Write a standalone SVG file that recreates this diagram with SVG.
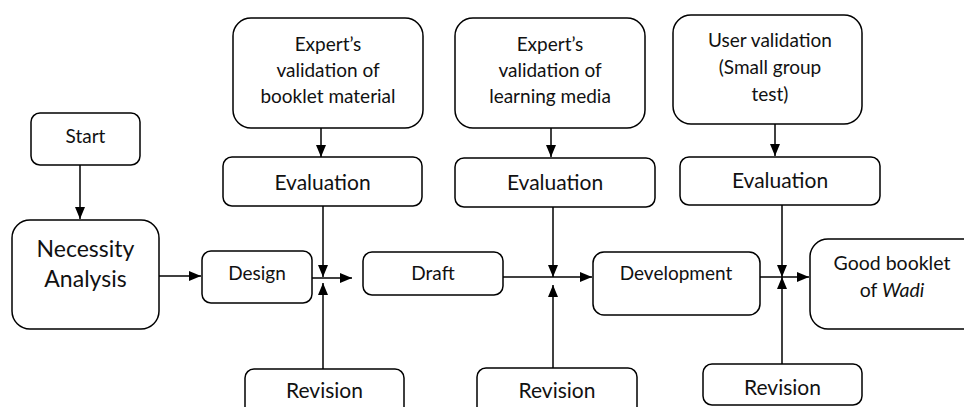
<svg xmlns="http://www.w3.org/2000/svg" width="964" height="407" viewBox="0 0 964 407">
<defs>
<marker id="ah" viewBox="0 0 12 10" refX="12" refY="5" markerWidth="12" markerHeight="10" markerUnits="userSpaceOnUse" orient="auto">
<path d="M0,0 L12,5 L0,10 z" fill="#000"/>
</marker>
<style>
.box{fill:#fff;stroke:#000;stroke-width:1.5}
.t{font-family:Lato,"Open Sans","Liberation Sans",sans-serif;fill:#111;text-anchor:middle}
.s17{font-size:19px}
.s18{font-size:19.5px}
.s21{font-size:21px}
.s22{font-size:23px}
.c{stroke:#000;stroke-width:1.5;fill:none;marker-end:url(#ah)}
</style>
</defs>
<rect width="964" height="407" fill="#fff"/>
<g id="connectors">
<line class="c" x1="80" y1="165" x2="80" y2="219"/>
<line class="c" x1="159" y1="276" x2="201" y2="276"/>
<line class="c" x1="321" y1="128" x2="321" y2="157"/>
<line class="c" x1="323" y1="206" x2="323" y2="277"/>
<line class="c" x1="323" y1="369" x2="323" y2="283"/>
<line class="c" x1="312" y1="278" x2="352" y2="278"/>
<line class="c" x1="551" y1="128" x2="551" y2="157"/>
<line class="c" x1="553" y1="207" x2="553" y2="277"/>
<line class="c" x1="553" y1="368" x2="553" y2="285"/>
<line class="c" x1="503" y1="277" x2="592" y2="277"/>
<line class="c" x1="775" y1="124" x2="775" y2="156"/>
<line class="c" x1="782" y1="205" x2="782" y2="277"/>
<line class="c" x1="782" y1="364" x2="782" y2="277"/>
<line class="c" x1="760" y1="277" x2="809" y2="277"/>
</g>
<g id="start"><rect class="box" x="31" y="113" width="109" height="52" rx="9"/><text class="t s17" x="85.5" y="143">Start</text></g>
<g id="necessity"><rect class="box" x="12" y="220" width="147" height="109" rx="18"/><text class="t s22" x="85.5" y="257">Necessity</text><text class="t s22" x="85.5" y="287">Analysis</text></g>
<g id="design"><rect class="box" x="202" y="251" width="110" height="52" rx="9"/><text class="t s17" x="257" y="280">Design</text></g>
<g id="expert1"><rect class="box" x="233" y="18" width="190" height="110" rx="18"/><text class="t s17" x="328" y="51">Expert’s</text><text class="t s17" x="328" y="77">validation of</text><text class="t s17" x="328" y="103">booklet material</text></g>
<g id="eval1"><rect class="box" x="223" y="157" width="199" height="49" rx="9"/><text class="t s21" x="322.5" y="190">Evaluation</text></g>
<g id="revision1"><rect class="box" x="245" y="369" width="159" height="50" rx="9"/><text class="t s21" x="324.5" y="398">Revision</text></g>
<g id="draft"><rect class="box" x="363" y="252" width="140" height="43" rx="9"/><text class="t s17" x="433" y="280">Draft</text></g>
<g id="expert2"><rect class="box" x="455" y="18" width="190" height="110" rx="18"/><text class="t s17" x="550" y="51">Expert’s</text><text class="t s17" x="550" y="77">validation of</text><text class="t s17" x="550" y="103">learning media</text></g>
<g id="eval2"><rect class="box" x="455" y="158" width="200" height="49" rx="9"/><text class="t s21" x="555" y="190">Evaluation</text></g>
<g id="revision2"><rect class="box" x="477" y="368" width="160" height="50" rx="9"/><text class="t s21" x="557" y="398">Revision</text></g>
<g id="development"><rect class="box" x="593" y="252" width="167" height="63" rx="11"/><text class="t s17" x="676" y="280">Development</text></g>
<g id="expert3"><rect class="box" x="673" y="15" width="189" height="109" rx="18"/><text class="t s17" x="770" y="47">User validation</text><text class="t s17" x="770" y="74">(Small group</text><text class="t s17" x="770" y="101">test)</text></g>
<g id="eval3"><rect class="box" x="680" y="157" width="200" height="48" rx="9"/><text class="t s21" x="780" y="188">Evaluation</text></g>
<g id="revision3"><rect class="box" x="703" y="364" width="159" height="41" rx="9"/><text class="t s21" x="782.5" y="395">Revision</text></g>
<g id="good"><rect class="box" x="810" y="239" width="170" height="90" rx="18"/><text class="t s18" x="892" y="270">Good booklet</text><text class="t s18" x="892" y="297">of <tspan font-style="italic">Wadi</tspan></text></g>
</svg>
